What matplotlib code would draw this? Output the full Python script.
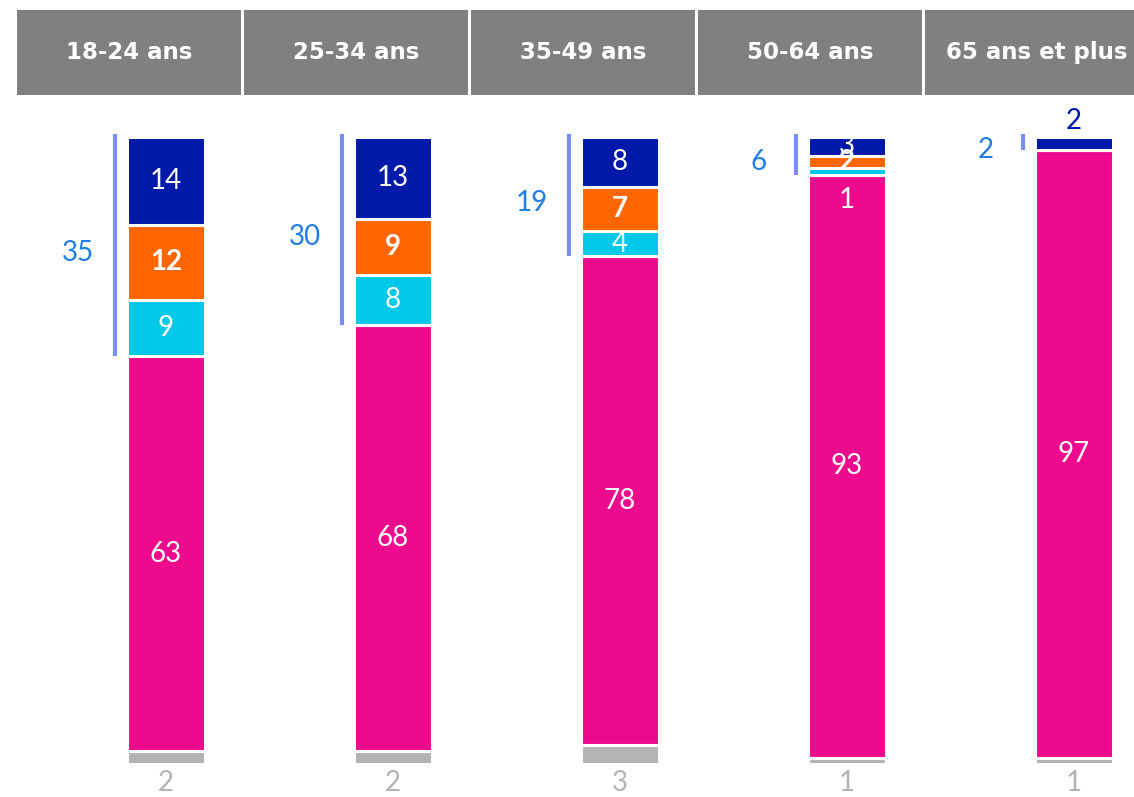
import matplotlib
matplotlib.use("Agg")
import matplotlib.pyplot as plt
from matplotlib.patches import Rectangle
import numpy as np

plt.rcParams["font.family"] = ["Lato", "DejaVu Sans"]

# age groups (header labels)
groups = ["18-24 ans", "25-34 ans", "35-49 ans", "50-64 ans", "65 ans et plus"]

# stacked shares, bottom to top
gray = [2, 2, 3, 1, 1]
pink = [63, 68, 78, 93, 97]
cyan = [9, 8, 4, 1, 0]
orange = [12, 9, 7, 2, 0]
blue = [14, 13, 8, 3, 2]

# total of the three upper segments shown next to the bracket
bracket_totals = [35, 30, 19, 6, 2]

C_GRAY = "#b3b3b3"
C_PINK = "#ee0a8c"
C_CYAN = "#00c8e8"
C_ORANGE = "#ff6600"
C_BLUE = "#0019a8"
C_BRACKET = "#7b8cf2"
C_BRACKET_TXT = "#1f7ee6"
C_HEADER = "#808080"

fig = plt.figure(figsize=(11.34, 7.97), dpi=100)
ax = fig.add_axes([0, 0, 1, 1])
ax.set_xlim(-0.731, 4.264)
ax.set_ylim(-5.26, 121.85)
ax.axis("off")

x = np.arange(len(groups))
w = 0.345
fs = 20

stack = [(gray, C_GRAY), (pink, C_PINK), (cyan, C_CYAN), (orange, C_ORANGE), (blue, C_BLUE)]
bottom = np.zeros(len(groups))
for vals, col in stack:
    v = np.array(vals, dtype=float)
    ax.bar(x, v, w, bottom=bottom, color=col, edgecolor="white", linewidth=2.2)
    for i in range(len(groups)):
        if v[i] <= 0:
            continue
        mid = bottom[i] + v[i] / 2
        if col == C_GRAY:
            ax.text(x[i], -3.0, f"{int(v[i])}", ha="center", va="center",
                    color=C_GRAY, fontsize=fs)
            continue
        txt_col = "white"
        weight = "bold" if col == C_ORANGE else "normal"
        y = mid
        if col == C_CYAN and v[i] < 2:
            y = mid - 4.6   # label pushed into the pink segment
        if col == C_BLUE and v[i] < 3:
            y = bottom[i] + v[i] + 2.6
            txt_col = C_BLUE
        ax.text(x[i], y, f"{int(v[i])}", ha="center", va="center",
                color=txt_col, fontsize=fs, fontweight=weight)
    bottom += v

# brackets covering cyan + orange + blue
for i in range(len(groups)):
    top = 100
    low = gray[i] + pink[i]
    ax.plot([x[i] - 0.225, x[i] - 0.225], [low, top + 0.5], color=C_BRACKET,
            lw=3, solid_capstyle="butt")
    ax.text(x[i] - 0.39, (low + top) / 2 - 1.0, f"{bracket_totals[i]}", ha="center",
            va="center", color=C_BRACKET_TXT, fontsize=fs)

# header boxes
for i, g in enumerate(groups):
    ax.add_patch(Rectangle((x[i] - 0.656, 106.7), 0.987, 13.55, facecolor=C_HEADER,
                           edgecolor="none", clip_on=False))
    ax.text(x[i] - 0.163, 113.4, g, ha="center", va="center", color="white",
            fontsize=16.5, fontweight="bold", family=["DejaVu Sans"])

fig.savefig("out.png", dpi=100)
